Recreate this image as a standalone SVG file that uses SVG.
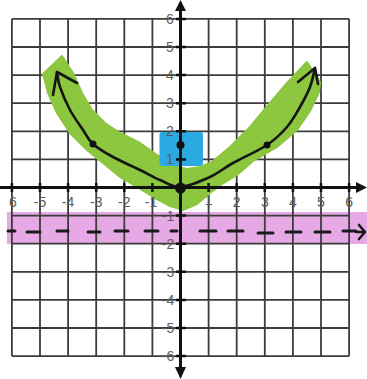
<svg xmlns="http://www.w3.org/2000/svg" width="367" height="379" viewBox="0 0 367 379">
<style>
.grid{stroke:#3c3c3c;stroke-width:1.8;fill:none}
.axis{stroke:#111;stroke-width:3;fill:none}
.tick{stroke:#111;stroke-width:2.5}
.lbl{font-family:"Liberation Sans","DejaVu Sans",sans-serif;font-size:14px;fill:#5c5c5c;text-anchor:middle}
.ink{stroke:#151515;stroke-width:2.6;fill:none;stroke-linecap:round;stroke-linejoin:round}
.dash{stroke:#1a1a1a;stroke-width:3;stroke-linecap:round}
</style>
<rect width="367" height="379" fill="#ffffff"/>
<g id="directrix-highlight">
<rect x="7" y="212" width="360" height="32" fill="#e6a9e6"/>
</g>
<g id="grid">
<path class="grid" d="M11.9 18.9V356.1M40 18.9V356.1M68.1 18.9V356.1M96.2 18.9V356.1M124.3 18.9V356.1M152.4 18.9V356.1M208.6 18.9V356.1M236.7 18.9V356.1M264.8 18.9V356.1M292.9 18.9V356.1M321 18.9V356.1M349.1 18.9V356.1M11.9 18.9H349.1M11.9 47H349.1M11.9 75.1H349.1M11.9 103.2H349.1M11.9 131.3H349.1M11.9 159.4H349.1M11.9 215.6H349.1M11.9 243.7H349.1M11.9 271.8H349.1M11.9 299.9H349.1M11.9 328H349.1M11.9 356.1H349.1"/>
</g>
<text class="lbl" x="208.6" y="205">1</text>
<g id="parabola-highlight">
<polygon fill="#8dc63f" stroke="#8dc63f" stroke-width="2" stroke-linejoin="round" points="43,74 62,56 73,73 82,93 92,110 105,123 120,133 140,143 160,157 173,166 187,169 200,167 212,162 230,147 250,127 270,103 287,83 307,62 320,82 319,92 310,111 297,130 277,147 253,161 237,175 222,184 210,193 197,204 183,210 170,206 155,198 137,187 120,177 103,163 87,150 70,133 57,113 48,93"/>
</g>
<g id="focus-highlight">
<rect x="159.5" y="132" width="43.5" height="34" rx="3" fill="#2aaae0"/>
</g>
<g id="labels">
<text class="lbl" x="170" y="24">6</text>
<text class="lbl" x="170" y="52">5</text>
<text class="lbl" x="170" y="80">4</text>
<text class="lbl" x="170" y="108">3</text>
<text class="lbl" x="170" y="136">2</text>
<text class="lbl" x="170" y="164">1</text>
<text class="lbl" x="168" y="221">-1</text>
<text class="lbl" x="168" y="249">-2</text>
<text class="lbl" x="168" y="277">-3</text>
<text class="lbl" x="168" y="305">-4</text>
<text class="lbl" x="168" y="333">-5</text>
<text class="lbl" x="168" y="361">-6</text>
<text class="lbl" x="13" y="207">6</text>
<text class="lbl" x="40" y="207">-5</text>
<text class="lbl" x="68.1" y="207">-4</text>
<text class="lbl" x="96.2" y="207">-3</text>
<text class="lbl" x="124.3" y="207">-2</text>
<text class="lbl" x="151" y="207">-1</text>
<text class="lbl" x="236.7" y="207">2</text>
<text class="lbl" x="264.8" y="207">3</text>
<text class="lbl" x="292.9" y="207">4</text>
<text class="lbl" x="321" y="207">5</text>
<text class="lbl" x="349.1" y="207">6</text>
</g>
<g id="axes">
<line class="axis" x1="180.5" y1="6" x2="180.5" y2="371"/>
<polygon points="180.5,0 175,11 186,11" fill="#111"/>
<polygon points="180.5,379 175,367 186,367" fill="#111"/>
<line class="axis" x1="0" y1="187.5" x2="359" y2="187.5"/>
<polygon points="367,187.5 356,182 356,193" fill="#111"/>
<path class="tick" d="M176 18.9H186M176 47H186M176 75.1H186M176 103.2H186M176 131.3H186M176 159.4H186M176 215.6H186M176 243.7H186M176 271.8H186M176 299.9H186M176 328H186M176 356.1H186M11.9 183V192M40 183V192M68.1 183V192M96.2 183V192M124.3 183V192M152.4 183V192M208.6 183V192M236.7 183V192M264.8 183V192M292.9 183V192M321 183V192M349.1 183V192"/>
</g>
<g id="directrix">
<path class="dash" d="M8 231H15M27 232H40M57 231H68M88 232H100M115 231H128M145 231H158M171 231H177M200 231H216M228 231H243M258 233H273M286 232H301M315 232H330M343 231H356"/>
<path class="ink" d="M356 232H365M359 225L365 232L359 239"/>
</g>
<g id="parabola">
<path class="ink" d="M57 72C57.5 74.5 57.8 80.7 60 87C62.2 93.3 66.2 102.8 70 110C73.8 117.2 79.2 124.3 83 130C86.8 135.7 88 139.5 93 144C98 148.5 105.2 152.7 113 157C120.8 161.3 132.2 166.2 140 170C147.8 173.8 153.3 177.2 160 180C166.7 182.8 171.7 187.5 180 187C188.3 186.5 201.2 181 210 177C218.8 173 223.5 168.3 233 163C242.5 157.7 258 151 267 145C276 139 281.5 133.3 287 127C292.5 120.7 296.2 113.7 300 107C303.8 100.3 307.5 93.5 310 87C312.5 80.5 314.2 71.2 315 68"/>
<path class="ink" d="M53 95L57 72L77 83"/>
<path class="ink" d="M298 82L315 68L318 84"/>
</g>
<g id="points">
<circle cx="180.5" cy="188" r="5.5" fill="#111"/>
<circle cx="180.5" cy="145" r="4" fill="#111"/>
<circle cx="93" cy="144" r="3.5" fill="#111"/>
<circle cx="267" cy="145" r="3.5" fill="#111"/>
</g>
</svg>
